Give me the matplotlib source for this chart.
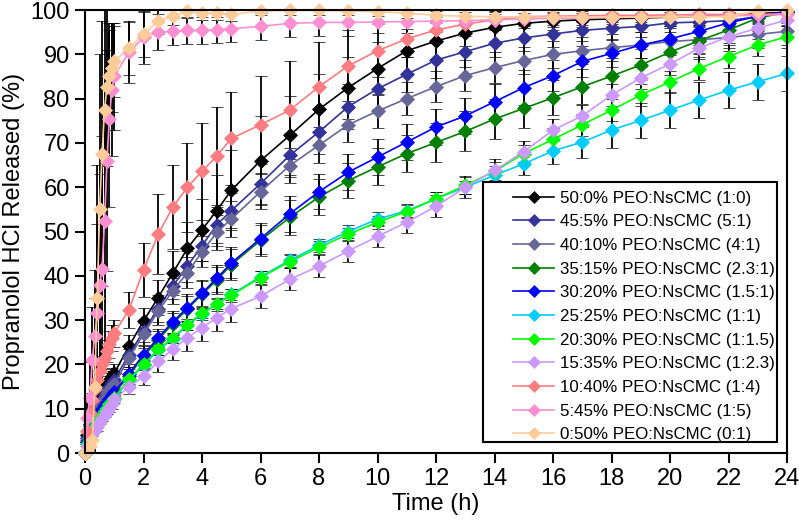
import matplotlib
matplotlib.use("Agg")
import matplotlib.pyplot as plt
from matplotlib.lines import Line2D
from matplotlib.patches import Rectangle

# sampling times (h)
time_h = [0, 0.083, 0.167, 0.25, 0.333, 0.417, 0.5, 0.583, 0.667, 0.75, 0.833, 0.917, 1.0,
          1.5, 2, 2.5, 3, 3.5, 4, 4.5, 5,
          6, 7, 8, 9, 10, 11, 12, 13, 14, 15, 16, 17, 18, 19, 20, 21, 22, 23, 24]

labels = [
    "50:0% PEO:NsCMC (1:0)",
    "45:5% PEO:NsCMC (5:1)",
    "40:10% PEO:NsCMC (4:1)",
    "35:15% PEO:NsCMC (2.3:1)",
    "30:20% PEO:NsCMC (1.5:1)",
    "25:25% PEO:NsCMC (1:1)",
    "20:30% PEO:NsCMC (1:1.5)",
    "15:35% PEO:NsCMC (1:2.3)",
    "10:40% PEO:NsCMC (1:4)",
    "5:45% PEO:NsCMC (1:5)",
    "0:50% PEO:NsCMC (0:1)",
]

colors = ["#000000", "#333399", "#666699", "#008000", "#0000FF", "#00CCFF",
          "#00FF00", "#CC99FF", "#FF7C80", "#FF8FD2", "#FFCC99"]

# mean release (%)
rel_50_0 = [0, 4, 6.5, 8.5, 10, 11.5, 12.5, 13.5, 14.5, 15.5, 16.5, 17.3, 18,
            24.1, 29.8, 35.1, 40.6, 46.2, 50.4, 54.7, 59.3,
            66, 71.7, 77.6, 82.5, 86.8, 90.8, 93, 94.8, 96.1, 97, 97.5, 97.8, 98, 98.2, 98.4, 98.6, 98.8, 99.2, 99.5]
rel_45_5 = [0, 3.5, 6, 7.5, 9, 10, 11, 12, 13, 14, 15, 15.8, 16.5,
            22.2, 27.5, 32.6, 37.7, 42.2, 46.8, 51.5, 54.7,
            60.8, 67.2, 72.5, 78.2, 82.2, 85.5, 88.7, 90.6, 92.5, 93.7, 94.6, 95.4, 95.9, 96.3, 97.1, 97.3, 97.6, 98.5, 99.5]
rel_40_10 = [0, 3, 5.5, 7, 8.5, 9.5, 10.5, 11.5, 12.5, 13.5, 14.3, 15, 15.5,
             21.5, 26.8, 32, 36.6, 40.7, 45.4, 49.8, 52.8,
             59, 64.9, 69.5, 74.1, 77.2, 80, 82.7, 85.2, 87, 88.6, 90, 90.8, 91.5, 92.1, 92.9, 93.3, 93.8, 94.5, 95.2]
rel_35_15 = [0, 2.5, 4.5, 6, 7, 8, 9, 10, 10.8, 11.5, 12.3, 13, 13.5,
             17.5, 21.8, 25.6, 29.2, 32.5, 35.8, 39, 42.5,
             48, 53.2, 57.8, 61.5, 64.6, 67.6, 70.1, 72.6, 75.4, 77.8, 80.2, 82.7, 85.1, 87.6, 90.5, 93.1, 95.5, 98.2, 99.5]
rel_30_20 = [0, 2.5, 4.5, 6, 7, 8, 9, 10, 10.8, 11.5, 12.3, 13, 13.7,
             17.9, 22.2, 26, 29.6, 32.8, 36.1, 39.4, 42.9,
             48.4, 54, 59, 63.4, 66.8, 70.2, 73.6, 76.1, 79.3, 82.5, 85.2, 88.4, 90.2, 92.1, 93.5, 95.2, 97.1, 98.6, 99.7]
rel_25_25 = [0, 2, 3.5, 5, 6, 7, 7.8, 8.6, 9.4, 10.2, 11, 11.7, 12.3,
             16.4, 19.8, 23.2, 25.8, 28.8, 31.4, 33.6, 35.8,
             39.8, 43.5, 46.9, 50, 52.8, 54.7, 57.4, 60, 62.7, 65.3, 68.2, 70.2, 72.9, 75.1, 77.4, 79.7, 81.9, 83.8, 85.7]
rel_20_30 = [0, 2, 3.5, 5, 6, 7, 7.8, 8.6, 9.4, 10.2, 11, 11.8, 12.5,
             16.6, 20, 23.4, 26, 29, 31.5, 33.6, 35.6,
             39.6, 43.2, 46.4, 49.4, 52.1, 54.5, 57.4, 60.4, 63.6, 67.6, 70.8, 74.1, 77.4, 80.8, 83.8, 86.8, 89.5, 92.1, 94]
rel_15_35 = [0, 1.5, 3, 4.3, 5.3, 6.2, 7, 7.8, 8.6, 9.4, 10.2, 11, 12.2,
             14.9, 17.3, 20.7, 23.4, 26, 28.3, 30.5, 32.6,
             35.4, 39.2, 42.2, 45.6, 48.9, 52.1, 55.7, 60, 63.8, 68, 72.9, 76.1, 80.8, 84.7, 87.8, 91.4, 94, 95.9, 97.8]
rel_10_40 = [0, 5, 9, 12, 14.5, 16.5, 18.5, 20, 21.5, 23, 24.5, 26, 27,
             32.3, 41.3, 49.4, 55.5, 60, 63.6, 67, 71,
             74.1, 77.4, 82.7, 87.4, 90.8, 93.5, 95.5, 96.8, 97.8, 98.5, 98.6, 98.7, 98.8, 98.8, 98.9, 99, 99, 99, 99.2]
rel_5_45 = [0, 8, 12.5, 21, 26.4, 31.7, 38, 41.5, 52.4, 66, 75.5, 82, 85,
            90.5, 93.8, 95, 95.2, 95.4, 95.4, 95.5, 95.8,
            96.3, 97, 97.2, 97.2, 97.3, 97.4, 97.5, 97.6, 97.8, 98, 98.1, 98.2, 98.3, 98.4, 98.5, 98.6, 98.7, 98.8, 99]
rel_0_50 = [0, 0.5, 1.5, 3, 15, 35, 55, 67.6, 77.4, 82.7, 85, 87, 88.4,
            91.4, 94.5, 97.5, 98.6, 99.7, 99.3, 99.3, 99,
            99.8, 99.9, 99.9, 99.8, 99.6, 99.3, 98.8, 98.6, 98.5, 98.4, 98.4, 98.4, 98.4, 98.4, 98.5, 98.5, 98.5, 99.8, 100]

# standard deviations (%)
sd_50_0 = [0, 1, 1, 1, 1.5, 1.5, 1.5, 1.5, 2, 2, 2, 2, 2,
           2.5, 3, 4, 5, 6, 7, 8, 9,
           10, 9, 8, 7, 6, 5, 4, 3, 3, 3, 2, 2, 2, 2, 2, 2, 2, 2, 2]
sd_45_5 = [0, 1, 1, 1, 1, 1, 1, 1, 1, 1, 1, 1.5, 1.5,
           2, 2.5, 3, 3, 3.5, 3.5, 4, 4,
           4.5, 5, 5, 5, 4.5, 4, 4, 3.5, 3, 3, 3, 2.5, 2.5, 2.5, 2, 2, 2, 2, 2]
sd_40_10 = [0, 1, 1, 1, 1, 1, 1, 1, 1, 1, 1, 1.5, 1.5,
            2, 2.5, 3, 3, 3.5, 3.5, 4, 4,
            4, 4, 4, 4, 3.8, 3.7, 3.5, 3.5, 3.5, 3, 3, 3, 3, 3, 3, 3, 3, 3, 3]
sd_35_15 = [0, 0.5, 0.5, 0.5, 1, 1, 1, 1, 1, 1, 1, 1, 1,
            1.5, 2, 2, 2.5, 3, 3, 3, 3.5,
            3.5, 4, 4, 4, 4.2, 4.2, 4.5, 4.5, 4.5, 4.5, 4, 4, 4, 3.5, 3, 3, 3, 3, 3]
sd_30_20 = [0, 0.5, 0.5, 0.5, 1, 1, 1, 1, 1, 1, 1, 1, 1,
            1.5, 2, 2, 2.5, 3, 3, 3, 3.5,
            3.5, 4, 4, 4, 4, 4, 4, 4, 4, 4, 3.5, 3.5, 3, 3, 3, 3, 3, 3, 3]
sd_25_25 = [0, 0.5, 0.5, 0.5, 0.5, 0.5, 0.5, 0.5, 0.5, 0.5, 0.5, 0.5, 0.5,
            1, 1, 1, 1, 1, 1, 1.2, 1.2,
            1.2, 1.5, 1.5, 1.5, 1.5, 1.5, 1.5, 1.5, 2, 2.5, 3, 3.5, 4, 4, 4, 4, 4, 4, 4]
sd_20_30 = [0, 0.5, 0.5, 0.5, 0.5, 0.5, 0.5, 0.5, 0.5, 0.5, 0.5, 0.5, 0.5,
            1, 1, 1.2, 1.2, 1.2, 1.5, 1.5, 1.5,
            1.5, 1.5, 1.5, 1.5, 1.5, 1.5, 1.5, 2, 2, 2, 2.5, 2.5, 2.5, 2.5, 2.5, 2.5, 2.5, 2.5, 2.5]
sd_15_35 = [0, 0.5, 0.5, 0.5, 0.5, 0.5, 0.5, 0.5, 0.5, 0.5, 1, 1, 1,
            1.5, 2, 2.5, 2.5, 3, 3, 3, 3,
            2.6, 2.5, 2.5, 2.5, 2.5, 2.5, 2.5, 2.5, 2.5, 2.5, 2.5, 2.5, 2.5, 2.5, 2.5, 2.5, 2.5, 2.5, 2.5]
sd_10_40 = [0, 1, 1, 1.5, 1.5, 2, 2, 2, 2.5, 2.5, 3, 3, 3,
            4, 6, 9, 9.5, 10, 11, 11, 10.5,
            11, 11, 10, 8, 6, 4, 3, 2, 2, 2, 2, 2, 2, 2, 2, 2, 2, 2, 2]
sd_5_45 = [0, 5, 8, 12, 15, 20, 25, 30, 30, 25, 20, 15, 12,
           7, 6, 4, 3, 3, 3, 3, 3,
           3, 3, 3, 3, 2.5, 2.5, 2.5, 2.5, 2, 2, 2, 2, 2, 2, 2, 2, 2, 2, 2]
sd_0_50 = [0, 2, 3, 10, 20, 30, 35, 30, 25, 18, 12, 10, 8,
           6, 5, 3, 2, 1.5, 1.5, 1.5, 1.5,
           1, 1, 1, 1, 1, 1, 1, 1, 1, 1, 1, 1, 1, 1, 1, 1, 1, 1, 1]

means = [rel_50_0, rel_45_5, rel_40_10, rel_35_15, rel_30_20, rel_25_25,
         rel_20_30, rel_15_35, rel_10_40, rel_5_45, rel_0_50]
sds = [sd_50_0, sd_45_5, sd_40_10, sd_35_15, sd_30_20, sd_25_25,
       sd_20_30, sd_15_35, sd_10_40, sd_5_45, sd_0_50]

plt.rcParams["font.family"] = ["Liberation Sans", "DejaVu Sans"]

fig = plt.figure(figsize=(7.99, 5.28), dpi=100)
ax = fig.add_subplot(111)
fig.subplots_adjust(left=0.1064, right=0.985, bottom=0.142, top=0.981)

handles = []
for y, err, color, label in zip(means, sds, colors, labels):
    cont = ax.errorbar(time_h, y, yerr=err, fmt="-D", color=color, lw=1.2,
                       markersize=7, markeredgewidth=0.5,
                       ecolor="black", elinewidth=1.3, capsize=4, capthick=1.3)
    cont.lines[0].set_clip_on(False)
    handles.append(Line2D([], [], color=color, lw=1.2, marker="D",
                          markersize=6, markeredgewidth=0.5, label=label))

ax.set_xlim(0, 24)
ax.set_ylim(0, 100)
ax.set_xticks(range(0, 25, 2))
ax.set_yticks(range(0, 101, 10))
ax.tick_params(direction="out", length=7, width=1.5, labelsize=17, pad=4)
for sp in ax.spines.values():
    sp.set_linewidth(1.5)

ax.set_xlabel("Time (h)", fontsize=17, labelpad=2)
ax.set_ylabel("Propranolol HCl Released (%)", fontsize=17, labelpad=4)

# legend box drawn separately so the padding can match the original
box = Rectangle((0.567, 0.025), 0.986 - 0.567, 0.612 - 0.025, transform=ax.transAxes,
                facecolor="white", edgecolor="black", lw=1.5, zorder=4.9, clip_on=False)
ax.add_patch(box)
leg = ax.legend(handles=handles, loc="upper left", bbox_to_anchor=(0.61, 0.592),
                borderaxespad=0, borderpad=0, frameon=False,
                fontsize=12.2, handlelength=2.4, labelspacing=0.51,
                handletextpad=0.35)
leg.set_zorder(5)

fig.savefig("out.png", dpi=100, facecolor="white")
